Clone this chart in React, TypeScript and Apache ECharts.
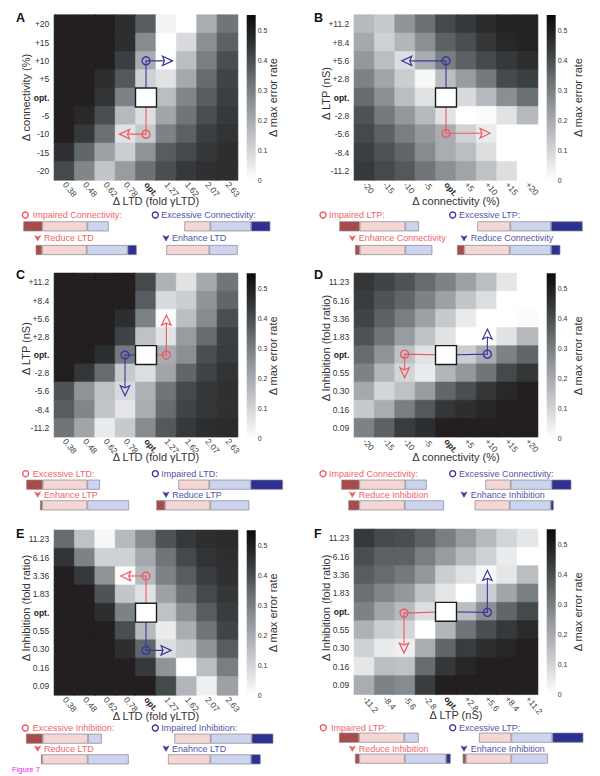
import React, { useEffect, useRef } from "react";
import * as echarts from "echarts";

const FONT = '"Liberation Sans", Arial, sans-serif';

const LTD_TICKS = ["0.38", "0.48", "0.62", "0.78", "opt.", "1.27", "1.62", "2.07", "2.63"];
const CONN_X_TICKS = ["-20", "-15", "-10", "-5", "opt.", "+5", "+10", "+15", "+20"];
const LTP_X_TICKS = ["-11.2", "-8.4", "-5.6", "-2.8", "opt.", "+2.8", "+5.6", "+8.4", "+11.2"];
const CONN_Y_TICKS = ["+20", "+15", "+10", "+5", "opt.", "-5", "-10", "-15", "-20"];
const LTP_Y_TICKS = ["+11.2", "+8.4", "+5.6", "+2.8", "opt.", "-2.8", "-5.6", "-8.4", "-11.2"];
const INH_Y_TICKS = ["11.23", "6.16", "3.36", "1.83", "opt.", "0.55", "0.30", "0.16", "0.09"];

const VALUES_A = [
  [.55, .55, .55, .50, .38, .03, 0, .20, .33],
  [.55, .55, .55, .50, .28, 0, .09, .27, .37],
  [.55, .55, .55, .44, .20, 0, .16, .31, .41],
  [.55, .55, .50, .39, .11, .07, .21, .35, .43],
  [.55, .55, .48, .30, 0, .16, .29, .38, .44],
  [.55, .52, .41, .17, .08, .22, .33, .41, .46],
  [.55, .46, .34, .07, .13, .30, .37, .44, .48],
  [.49, .36, .23, .12, .26, .38, .42, .47, .50],
  [.42, .29, .14, .24, .34, .41, .46, .49, .50],
];
const VALUES_B = [
  [.17, .13, .26, .34, .42, .46, .51, .54, .54],
  [.21, .11, .18, .27, .37, .41, .47, .52, .54],
  [.25, .16, .08, .20, .31, .37, .42, .46, .50],
  [.30, .22, .12, .02, .16, .24, .32, .42, .44],
  [.35, .27, .16, .07, 0, .09, .17, .27, .34],
  [.40, .32, .25, .17, .07, 0, .01, .07, .17],
  [.42, .37, .31, .25, .20, .11, .05, 0, 0],
  [.44, .40, .36, .28, .20, .16, .08, 0, 0],
  [.46, .42, .39, .33, .27, .22, .15, .08, 0],
];
const VALUES_C = [
  [.55, .55, .55, .55, .42, .19, .07, .21, .33],
  [.55, .55, .55, .55, .38, .09, .12, .26, .36],
  [.55, .55, .55, .50, .30, .01, .16, .28, .41],
  [.55, .55, .55, .43, .15, .07, .24, .35, .44],
  [.55, .55, .50, .32, 0, .20, .27, .41, .45],
  [.55, .47, .35, .13, .08, .22, .36, .43, .48],
  [.40, .26, .15, .09, .19, .33, .42, .47, .49],
  [.38, .29, .14, .06, .20, .35, .43, .47, .49],
  [.33, .22, .05, .13, .28, .39, .46, .50, .51],
];
const VALUES_D = [
  [.47, .43, .40, .35, .30, .23, .16, .06, 0],
  [.45, .40, .36, .30, .23, .14, .08, 0, 0],
  [.43, .37, .31, .23, .13, .05, 0, 0, .01],
  [.40, .33, .24, .15, .07, 0, 0, .07, .17],
  [.35, .26, .15, .07, 0, .12, .20, .30, .36],
  [.30, .18, .10, .05, .18, .25, .33, .42, .47],
  [.21, .10, .15, .24, .36, .41, .47, .52, .55],
  [.13, .20, .31, .39, .47, .50, .53, .55, .55],
  [.30, .37, .45, .50, .55, .55, .55, .55, .55],
];
const VALUES_E = [
  [.35, .15, .02, .17, .28, .40, .46, .50, .51],
  [.48, .30, .11, .11, .21, .33, .42, .48, .50],
  [.55, .46, .26, .01, .17, .30, .38, .45, .49],
  [.55, .55, .40, .14, .07, .23, .34, .42, .47],
  [.55, .55, .50, .30, 0, .15, .27, .38, .45],
  [.55, .55, .55, .41, .17, .05, .20, .33, .43],
  [.55, .55, .55, .50, .36, .08, .13, .26, .38],
  [.55, .55, .55, .55, .46, .26, 0, .16, .31],
  [.55, .55, .55, .55, .55, .42, .18, .04, .23],
];
const VALUES_F = [
  [.46, .42, .41, .37, .31, .24, .17, .10, .06],
  [.41, .37, .37, .31, .24, .17, .11, .05, 0],
  [.38, .35, .32, .25, .12, .07, .02, .06, .16],
  [.34, .29, .25, .15, .06, 0, .12, .22, .31],
  [.30, .22, .17, .08, 0, .16, .27, .36, .42],
  [.19, .12, .10, 0, .18, .33, .41, .46, .51],
  [.11, .05, .04, .20, .36, .45, .50, .53, .55],
  [.06, .16, .15, .35, .47, .53, .55, .55, .55],
  [.20, .30, .28, .45, .55, .55, .55, .55, .55],
];

// Arrows, in cell units counted from the lower-left corner of each map
const ARROWS_A = [{ tone: "red", circle: [4.5, 2.5], tip: [3.2, 2.5] }, { tone: "blue", circle: [4.5, 6.5], tip: [5.8, 6.5] }];
const ARROWS_B = [{ tone: "red", circle: [4.5, 2.55], tip: [6.66, 2.55] }, { tone: "blue", circle: [4.5, 6.5], tip: [2.33, 6.5] }];
const ARROWS_C = [{ tone: "red", circle: [5.5, 4.5], tip: [5.5, 6.7] }, { tone: "blue", circle: [3.47, 4.5], tip: [3.47, 2.26] }];
const ARROWS_D = [{ tone: "red", circle: [2.47, 4.55], tip: [2.47, 3.25] }, { tone: "blue", circle: [6.53, 4.55], tip: [6.53, 5.93] }];
const ARROWS_E = [{ tone: "red", circle: [4.5, 6.5], tip: [3.26, 6.5] }, { tone: "blue", circle: [4.5, 2.44], tip: [5.73, 2.44] }];
const ARROWS_F = [{ tone: "red", circle: [2.44, 4.43], tip: [2.44, 2.25] }, { tone: "blue", circle: [6.53, 4.47], tip: [6.53, 6.76] }];

// Segment lengths of the state bars: [dark red, light red, light blue, dark blue]
const BARS_A = [[57, 135, 64, 0], [0, 78, 122, 58], [19, 134, 123, 27], [0, 129, 85, 0]];
const BARS_B = [[61, 137, 41, 0], [0, 99, 122, 95], [14, 137, 81, 0], [22, 136, 124, 28]];
const BARS_C = [[49, 134, 38, 0], [0, 93, 124, 97], [7, 135, 125, 0], [26, 136, 117, 0]];
const BARS_D = [[54, 138, 64, 0], [0, 76, 123, 59], [33, 136, 118, 0], [0, 105, 123, 9]];
const BARS_E = [[50, 136, 41, 0], [0, 109, 123, 65], [4, 136, 123, 0], [0, 127, 122, 29]];
const BARS_F = [[60, 136, 43, 0], [0, 97, 123, 93], [13, 136, 124, 14], [10, 136, 110, 0]];

const CAPTIONS_A = ["Impaired Connectivity:", "Excessive Connectivity:", "Reduce LTD", "Enhance LTD"];
const CAPTIONS_B = ["Impaired LTP:", "Excessive LTP:", "Enhance Connectivity", "Reduce Connectivity"];
const CAPTIONS_C = ["Excessive LTD:", "Impaired LTD:", "Enhance LTP", "Reduce LTP"];
const CAPTIONS_D = ["Impaired Connectivity:", "Excessive Connectivity:", "Reduce Inhibition", "Enhance Inhibition"];
const CAPTIONS_E = ["Excessive Inhibition:", "Impaired Inhibition:", "Reduce LTD", "Enahnce LTD"];
const CAPTIONS_F = ["Impaired LTP:", "Excessive LTP:", "Reduce Inhibition", "Enhance Inhibition"];

const COLORBAR_TICK_MAX = 0.55;
const HEAT_COLORS = ["#ffffff", "#cfd2d5", "#a1a5a9", "#70757a", "#3a3f41", "#231f20"];

const C_RED = "#ee5a60";
const C_BLUE = "#39399a";
const T_RED = "#f0656b";
const T_BLUE = "#5253a8";
const SEG_COLORS = ["#a84b49", "#f4d6d4", "#cdd4ee", "#2e3192"];

// layout: zoom-space numbers are divided by 3 (the crops were read at 3x)
const PANELS = [
  { letter: "A", lx: 16, ly: 18, left: 54.3, top: 15, h: 165, cbTop: 15, titleGap: 12, xTicks: LTD_TICKS, yTicks: CONN_Y_TICKS, xName: "Δ LTD (fold γLTD)", yName: "Δ connectivity (%)", yShift: 0, values: VALUES_A, arrows: ARROWS_A, bars: BARS_A, captions: CAPTIONS_A,
    barPos: [[70, 664], [553, 664], [107, 735], [499, 735]], capPos: [[76, 645, 98], [466, 645, 484], [113, 714, 132], [498, 714, 516]], ox: 0, oy: 0 },
  { letter: "B", lx: 314, ly: 18, left: 354.3, top: 15, h: 165, cbTop: 15, titleGap: 17, xTicks: CONN_X_TICKS, yTicks: LTP_Y_TICKS, xName: "Δ connectivity (%)", yName: "Δ LTP (nS)", yShift: 8, values: VALUES_B, arrows: ARROWS_B, bars: BARS_B, captions: CAPTIONS_B,
    barPos: [[118, 664], [532, 664], [165, 735], [471, 735]], capPos: [[69, 645, 87], [458, 645, 477], [157, 714, 176], [492, 714, 512]], ox: 300, oy: 0 },
  { letter: "C", lx: 16, ly: 275, left: 54.3, top: 273.3, h: 163.5, cbTop: 273.3, titleGap: 12, xTicks: LTD_TICKS, yTicks: LTP_Y_TICKS, xName: "Δ LTD (fold γLTD)", yName: "Δ LTP (nS)", yShift: 13, values: VALUES_C, arrows: ARROWS_C, bars: BARS_C, captions: CAPTIONS_C,
    barPos: [[79, 659], [535, 659], [120, 721], [469, 721]], capPos: [[77, 641, 98], [466, 641, 484], [113, 703, 132], [498, 703, 517]], ox: 0, oy: 260 },
  { letter: "D", lx: 314, ly: 275, left: 354.3, top: 273.3, h: 163.5, cbTop: 273.3, titleGap: 17, xTicks: CONN_X_TICKS, yTicks: INH_Y_TICKS, xName: "Δ connectivity (%)", yName: "Δ Inhibition (fold ratio)", yShift: 14, values: VALUES_D, arrows: ARROWS_D, bars: BARS_D, captions: CAPTIONS_D,
    barPos: [[124, 659], [556, 659], [145, 721], [524, 721]], capPos: [[69, 641, 87], [458, 641, 477], [157, 703, 176], [492, 703, 512]], ox: 300, oy: 260 },
  { letter: "E", lx: 16, ly: 534, left: 54.3, top: 530.3, h: 164.7, cbTop: 530.3, titleGap: 12, xTicks: LTD_TICKS, yTicks: INH_Y_TICKS, xName: "Δ LTD (fold γLTD)", yName: "Δ Inhibition (fold ratio)", yShift: 9, values: VALUES_E, arrows: ARROWS_E, bars: BARS_E, captions: CAPTIONS_E,
    barPos: [[78, 653], [523, 653], [123, 715], [504, 715]], capPos: [[76, 636, 98], [466, 636, 484], [113, 697, 132], [498, 697, 516]], ox: 0, oy: 516 },
  { letter: "F", lx: 314, ly: 534, left: 354.3, top: 529.3, h: 165, cbTop: 529.3, titleGap: 17, xTicks: LTP_X_TICKS, yTicks: INH_Y_TICKS, xName: "Δ LTP (nS)", yName: "Δ Inhibition (fold ratio)", yShift: 8, values: VALUES_F, arrows: ARROWS_F, bars: BARS_F, captions: CAPTIONS_F,
    barPos: [[117, 650], [537, 650], [165, 713], [488, 713]], capPos: [[70, 635, 93], [458, 635, 477], [157, 697, 176], [492, 697, 512]], ox: 300, oy: 516 },
];

const GRID_W = 183.4;

function toneColor(t: string) {
  return t === "red" ? C_RED : C_BLUE;
}

function buildOption() {
  const grid: any[] = [];
  const xAxis: any[] = [];
  const yAxis: any[] = [];
  const series: any[] = [];
  const graphic: any[] = [];
  const heatIndex: number[] = [];

  const boldLabel = (v: string) => (v === "opt." ? "{b|opt.}" : v);
  const richBold = { b: { fontFamily: FONT, fontWeight: "bold", fontSize: 8.5, color: "#222" } };

  // Heat maps first, so that the visual map can name them
  PANELS.forEach((p) => {
    const i = grid.length;
    grid.push({ left: p.left, top: p.top, width: GRID_W, height: p.h, containLabel: false });
    xAxis.push({
      type: "category", gridIndex: i, data: p.xTicks, position: "bottom",
      axisLine: { show: false }, axisTick: { show: false }, splitLine: { show: false },
      axisLabel: { interval: 0, rotate: -50, margin: 3, fontFamily: FONT, fontSize: 8.5, color: "#444", formatter: boldLabel, rich: richBold, hideOverlap: false },
      name: p.xName, nameLocation: "middle", nameGap: 15, nameMoveOverlap: false,
      nameTextStyle: { fontFamily: FONT, fontSize: 11, color: "#333", padding: [0, 0, 0, 20] },
    });
    yAxis.push({
      type: "category", gridIndex: i, data: [...p.yTicks].reverse(),
      axisLine: { show: false }, axisTick: { show: false }, splitLine: { show: false },
      axisLabel: { interval: 0, margin: 5, fontFamily: FONT, fontSize: 8.5, color: "#333", formatter: boldLabel, rich: richBold, hideOverlap: false },
      name: p.yName, nameLocation: "middle", nameGap: 23, nameMoveOverlap: false,
      nameTextStyle: { fontFamily: FONT, fontSize: 11, color: "#333", padding: [0, 0, 0, p.yShift] },
    });
    const data: any[] = [];
    p.values.forEach((row, r) =>
      row.forEach((v, c) => {
        // a border of the cell's own colour closes the hairline seams between cells
        const col = echarts.color.lerp(v / COLORBAR_TICK_MAX, HEAT_COLORS);
        data.push({ value: [c, 8 - r, v], itemStyle: { borderColor: col, borderWidth: 0.6 } });
      })
    );
    heatIndex.push(series.length);
    series.push({ type: "heatmap", xAxisIndex: i, yAxisIndex: i, data, silent: true, emphasis: { disabled: true } });
  });

  // Arrows and the optimum square, through each map's own axes
  PANELS.forEach((p, i) => {
    const marks: any[] = [...p.arrows, { opt: true }];
    series.push({
      type: "custom", xAxisIndex: i, yAxisIndex: i, coordinateSystem: "cartesian2d", silent: true, z: 5,
      data: marks.map(() => [0, 0]),
      encode: { x: 0, y: 1 },
      renderItem: (params: any, api: any) => {
        const a = api.coord([0, 0]);
        const s = api.size([1, 1]);
        const pt = (x: number, y: number) => [a[0] - s[0] / 2 + x * s[0], a[1] + s[1] / 2 - y * s[1]];
        const m = marks[params.dataIndex];
        if (m.opt) {
          const c = pt(4.5, 4.5);
          return {
            type: "rect",
            shape: { x: c[0] - s[0] / 2 - 0.3, y: c[1] - s[1] / 2 - 0.3, width: s[0] + 0.6, height: s[1] + 0.6 },
            style: { fill: "#ffffff", stroke: "#1c1c1c", lineWidth: 1.4 },
          };
        }
        const col = toneColor(m.tone);
        const c0 = pt(4.5, 4.5);
        const c1 = pt(m.circle[0], m.circle[1]);
        const t = pt(m.tip[0], m.tip[1]);
        const len = Math.hypot(t[0] - c1[0], t[1] - c1[1]);
        const d = [(t[0] - c1[0]) / len, (t[1] - c1[1]) / len];
        const n = [-d[1], d[0]];
        const base = [t[0] - d[0] * 10, t[1] - d[1] * 10];
        const notch = [base[0] + d[0] * 2, base[1] + d[1] * 2];
        return {
          type: "group",
          children: [
            { type: "polyline", shape: { points: [c0, c1, notch] }, style: { fill: "none", stroke: col, lineWidth: 1.1 } },
            { type: "polygon", shape: { points: [t, [base[0] + n[0] * 4.7, base[1] + n[1] * 4.7], notch, [base[0] - n[0] * 4.7, base[1] - n[1] * 4.7]] }, style: { fill: "none", stroke: col, lineWidth: 1.2 } },
            { type: "circle", shape: { cx: c1[0], cy: c1[1], r: 4 }, style: { fill: "none", stroke: col, lineWidth: 1.4 } },
          ],
        };
      },
    });
  });

  // Colour bars
  PANELS.forEach((p) => {
    const i = grid.length;
    grid.push({ left: p.left + 192.4, top: p.cbTop, width: 9, height: 165 });
    xAxis.push({ type: "category", gridIndex: i, data: [""], show: false });
    yAxis.push({
      type: "value", gridIndex: i, min: 0, max: COLORBAR_TICK_MAX, interval: 0.1, position: "right",
      axisLine: { show: false }, axisTick: { show: false }, splitLine: { show: false },
      axisLabel: { margin: 2, fontFamily: FONT, fontSize: 7, color: "#333", showMaxLabel: false, formatter: (v: number) => (v === 0 ? "0" : v > 0.5 ? "" : v.toFixed(1)) },
      name: "Δ max error rate", nameLocation: "middle", nameRotate: 90, nameGap: p.titleGap, nameMoveOverlap: false,
      nameTextStyle: { fontFamily: FONT, fontSize: 11, color: "#333" },
    });
    series.push({
      type: "bar", xAxisIndex: i, yAxisIndex: i, data: [COLORBAR_TICK_MAX], barWidth: "100%", silent: true,
      itemStyle: {
        color: new echarts.graphic.LinearGradient(0, 0, 0, 1, [
          { offset: 0, color: "#0a0a0a" }, { offset: 0.2, color: "#34393b" }, { offset: 0.4, color: "#6c7174" },
          { offset: 0.6, color: "#9ea2a6" }, { offset: 0.8, color: "#cdd0d3" }, { offset: 1, color: "#ffffff" },
        ]),
      },
    });
  });

  // State bars, one small stacked chart each
  PANELS.forEach((p) => {
    p.bars.forEach((segments, b) => {
      const i = grid.length;
      const total = segments.reduce((u, v) => u + v, 0);
      grid.push({ left: p.ox + p.barPos[b][0] / 3, top: p.oy + p.barPos[b][1] / 3, width: total / 3, height: 10 });
      xAxis.push({ type: "value", gridIndex: i, min: 0, max: total, show: false });
      yAxis.push({ type: "category", gridIndex: i, data: ["state"], show: false });
      segments.forEach((v, k) => {
        if (v <= 0) return;
        series.push({
          type: "bar", xAxisIndex: i, yAxisIndex: i, stack: "s" + i, data: [v], barWidth: "100%", silent: true,
          itemStyle: { color: SEG_COLORS[k], borderColor: "#85858f", borderWidth: 0.7 },
        });
      });
    });
    p.captions.forEach((caption, c) => {
      const tone = c % 2 === 0 ? "red" : "blue";
      const [mx, my, tx] = p.capPos[c];
      const cx = p.ox + mx / 3;
      const cy = p.oy + my / 3;
      const col = tone === "red" ? C_RED : C_BLUE;
      if (c < 2) {
        graphic.push({ type: "circle", shape: { cx, cy, r: 3 }, style: { fill: "none", stroke: col, lineWidth: 1.4 } });
      } else {
        graphic.push({
          type: "polygon",
          shape: { points: [[cx - 3, cy - 2.4], [cx, cy - 1], [cx + 3, cy - 2.4], [cx, cy + 3]] },
          style: { fill: col, stroke: col, lineWidth: 0.6 },
        });
      }
      graphic.push({
        type: "text",
        style: { text: caption, x: p.ox + tx / 3, y: cy + 0.3, font: `9px ${FONT}`, fill: tone === "red" ? T_RED : T_BLUE, align: "left", verticalAlign: "middle" },
      });
    });
    graphic.push({
      type: "text",
      style: { text: p.letter, x: p.lx, y: p.ly, font: `bold 12.5px ${FONT}`, fill: "#111", align: "left", verticalAlign: "middle" },
    });
  });

  graphic.push({
    type: "text",
    style: { text: "Figure 7", x: 12, y: 769, font: `7.6px ${FONT}`, fill: "#ee22ee", align: "left", verticalAlign: "middle" },
  });

  return {
    animation: false,
    backgroundColor: "#ffffff",
    textStyle: { fontFamily: FONT },
    grid,
    xAxis,
    yAxis,
    visualMap: [{ show: false, type: "continuous", min: 0, max: 0.55, dimension: 2, seriesIndex: heatIndex, inRange: { color: HEAT_COLORS } }],
    series,
    graphic: { elements: graphic },
  };
}

export default function App() {
  const ref = useRef<HTMLDivElement>(null);
  useEffect(() => {
    document.body.style.margin = "0";
    const chart = echarts.init(ref.current!, undefined, { renderer: "svg" });
    chart.setOption(buildOption() as any);
    return () => chart.dispose();
  }, []);
  return <div ref={ref} style={{ width: 600, height: 776 }} />;
}
